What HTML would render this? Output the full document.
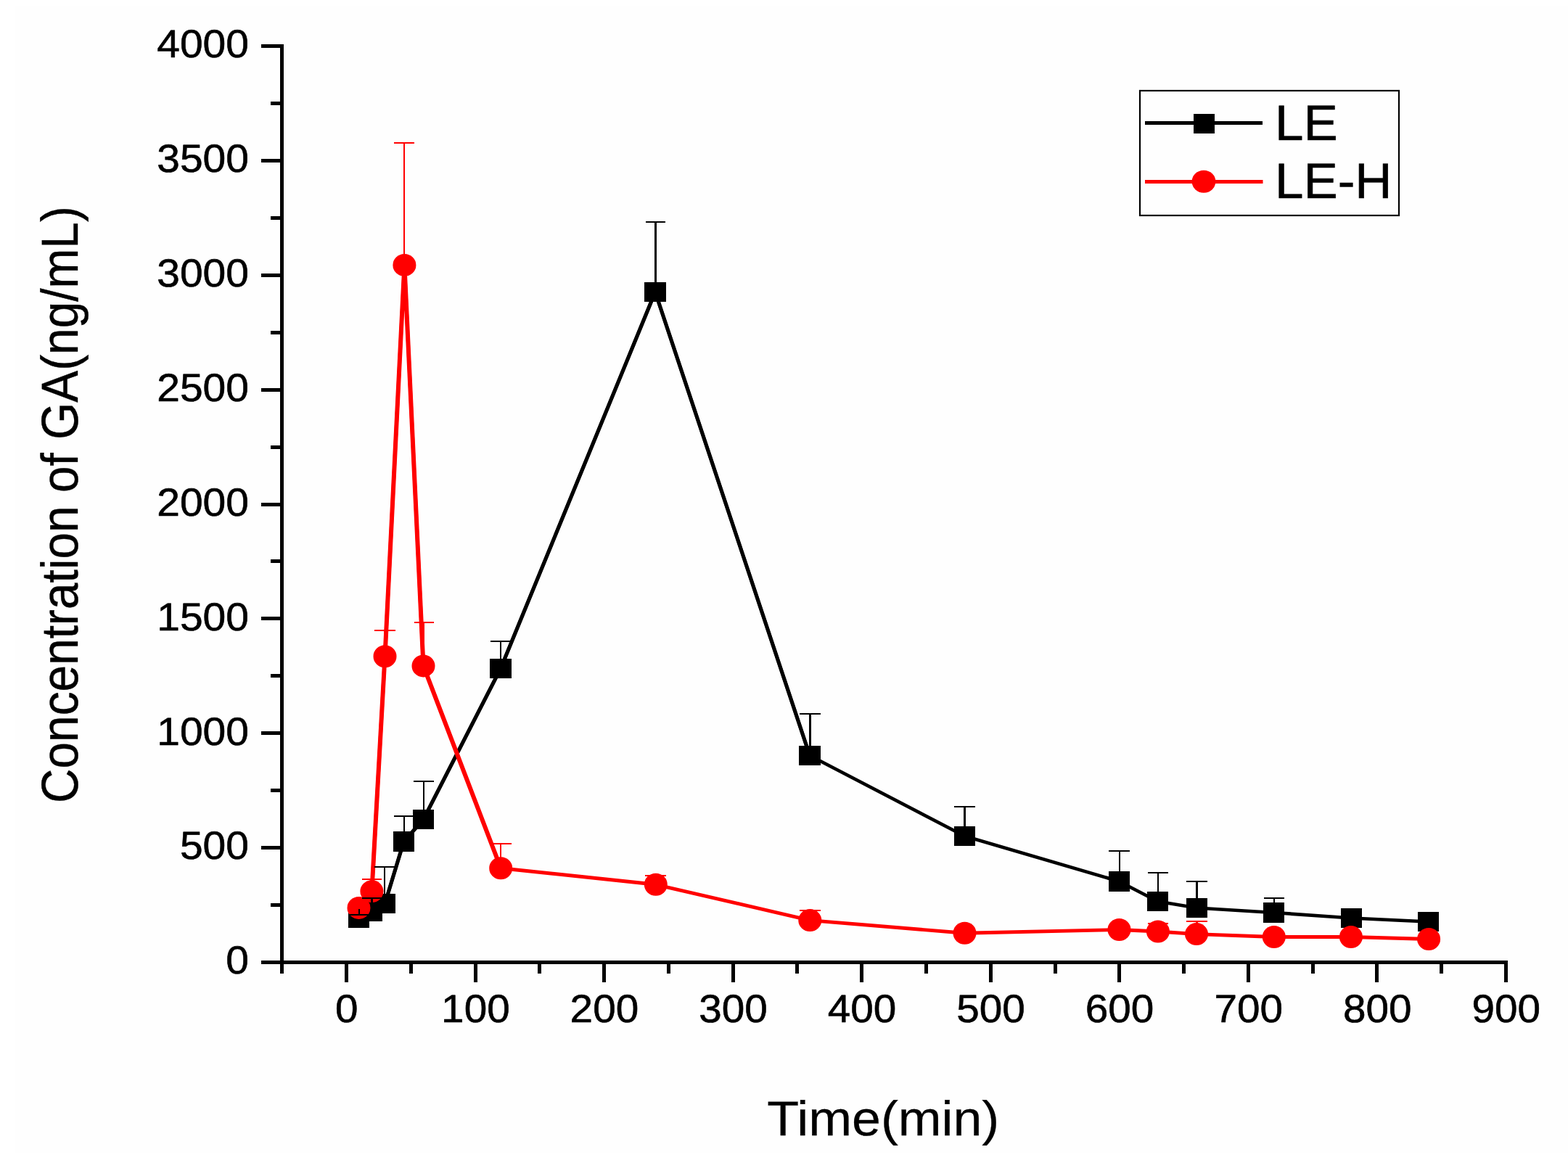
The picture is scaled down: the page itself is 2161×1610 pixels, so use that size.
<!DOCTYPE html>
<html lang="en"><head><meta charset="utf-8"><title>Concentration of GA vs Time</title>
<style>
html,body{margin:0;padding:0;background:#fff;width:2161px;height:1610px;overflow:hidden;}
svg{display:block;}
text{text-rendering:geometricPrecision;}
</style></head>
<body>
<svg width="2161" height="1610" viewBox="0 0 2161 1610">
<rect x="20" y="8" width="2141" height="1582" fill="#fefefe"/>
<g fill="#000" shape-rendering="crispEdges">
<rect x="386" y="61" width="5" height="1281"/>
<rect x="360" y="1324" width="1718" height="5"/>
<rect x="359.5" y="1324.0" width="28" height="5"/>
<rect x="359.5" y="1166.1" width="28" height="5"/>
<rect x="359.5" y="1008.2" width="28" height="5"/>
<rect x="359.5" y="850.4" width="28" height="5"/>
<rect x="359.5" y="692.5" width="28" height="5"/>
<rect x="359.5" y="534.6" width="28" height="5"/>
<rect x="359.5" y="376.8" width="28" height="5"/>
<rect x="359.5" y="218.9" width="28" height="5"/>
<rect x="359.5" y="61.0" width="28" height="5"/>
<rect x="373" y="1245.1" width="14" height="5"/>
<rect x="373" y="1087.2" width="14" height="5"/>
<rect x="373" y="929.3" width="14" height="5"/>
<rect x="373" y="771.4" width="14" height="5"/>
<rect x="373" y="613.6" width="14" height="5"/>
<rect x="373" y="455.7" width="14" height="5"/>
<rect x="373" y="297.8" width="14" height="5"/>
<rect x="373" y="139.9" width="14" height="5"/>
<rect x="475.0" y="1326" width="5" height="27.5"/>
<rect x="652.6" y="1326" width="5" height="27.5"/>
<rect x="830.1" y="1326" width="5" height="27.5"/>
<rect x="1007.7" y="1326" width="5" height="27.5"/>
<rect x="1185.2" y="1326" width="5" height="27.5"/>
<rect x="1362.8" y="1326" width="5" height="27.5"/>
<rect x="1540.3" y="1326" width="5" height="27.5"/>
<rect x="1717.9" y="1326" width="5" height="27.5"/>
<rect x="1895.4" y="1326" width="5" height="27.5"/>
<rect x="2073.0" y="1326" width="5" height="27.5"/>
<rect x="563.8" y="1326" width="5" height="15.5"/>
<rect x="741.3" y="1326" width="5" height="15.5"/>
<rect x="918.9" y="1326" width="5" height="15.5"/>
<rect x="1096.4" y="1326" width="5" height="15.5"/>
<rect x="1274.0" y="1326" width="5" height="15.5"/>
<rect x="1451.6" y="1326" width="5" height="15.5"/>
<rect x="1629.1" y="1326" width="5" height="15.5"/>
<rect x="1806.7" y="1326" width="5" height="15.5"/>
<rect x="1984.2" y="1326" width="5" height="15.5"/>
</g>
<g font-family="Liberation Sans, sans-serif" font-size="54.2" fill="#000" stroke="#000" stroke-width="0.6" stroke-linejoin="round">
<text transform="translate(343,1342.3) scale(1.052,1)" text-anchor="end">0</text>
<text transform="translate(343,1184.4) scale(1.052,1)" text-anchor="end">500</text>
<text transform="translate(343,1026.5) scale(1.052,1)" text-anchor="end">1000</text>
<text transform="translate(343,868.7) scale(1.052,1)" text-anchor="end">1500</text>
<text transform="translate(343,710.8) scale(1.052,1)" text-anchor="end">2000</text>
<text transform="translate(343,552.9) scale(1.052,1)" text-anchor="end">2500</text>
<text transform="translate(343,395.1) scale(1.052,1)" text-anchor="end">3000</text>
<text transform="translate(343,237.2) scale(1.052,1)" text-anchor="end">3500</text>
<text transform="translate(343,79.3) scale(1.052,1)" text-anchor="end">4000</text>
<text transform="translate(477.8,1409.1) scale(1.046,1)" text-anchor="middle">0</text>
<text transform="translate(655.4,1409.1) scale(1.046,1)" text-anchor="middle">100</text>
<text transform="translate(832.9,1409.1) scale(1.046,1)" text-anchor="middle">200</text>
<text transform="translate(1010.5,1409.1) scale(1.046,1)" text-anchor="middle">300</text>
<text transform="translate(1188.0,1409.1) scale(1.046,1)" text-anchor="middle">400</text>
<text transform="translate(1365.6,1409.1) scale(1.046,1)" text-anchor="middle">500</text>
<text transform="translate(1543.1,1409.1) scale(1.046,1)" text-anchor="middle">600</text>
<text transform="translate(1720.7,1409.1) scale(1.046,1)" text-anchor="middle">700</text>
<text transform="translate(1898.2,1409.1) scale(1.046,1)" text-anchor="middle">800</text>
<text transform="translate(2075.8,1409.1) scale(1.046,1)" text-anchor="middle">900</text>
</g>
<g font-family="Liberation Sans, sans-serif" font-size="66" fill="#000">
<text transform="translate(1217.2,1565) scale(1.066,1)" font-size="67.3" text-anchor="middle" stroke="#000" stroke-width="0.3">Time(min)</text>
<text transform="translate(107.3,695.6) scale(1.085,1) rotate(-90)" font-size="65.8" text-anchor="middle" stroke="#000" stroke-width="0.4">Concentration of GA(ng/mL)</text>
</g>
<polyline points="494.5,1265.5 512.5,1256.5 530.5,1245.5 556.5,1160.0 583.5,1129.5 690.0,921.5 903.0,402.5 1116.0,1041.5 1329.5,1152.5 1542.5,1215.0 1595.5,1242.5 1649.5,1251.5 1755.5,1258.0 1862.5,1265.5 1968.5,1270.5" fill="none" stroke="#000" stroke-width="4.7" stroke-linejoin="round"/>
<polyline points="530.5,1245.5 556.5,1160.0 583.5,1129.5 690.0,921.5 903.0,402.5 1116.0,1041.5" fill="none" stroke="#000" stroke-width="5.1" stroke-linejoin="round"/>
<g fill="#000" shape-rendering="crispEdges">
<rect x="480" y="1252" width="29" height="27"/>
<rect x="498" y="1243" width="29" height="27"/>
<rect x="516" y="1232" width="29" height="27"/>
<rect x="542" y="1146" width="29" height="28"/>
<rect x="569" y="1116" width="29" height="27"/>
<rect x="675" y="908" width="30" height="27"/>
<rect x="888" y="389" width="30" height="27"/>
<rect x="1101" y="1028" width="30" height="27"/>
<rect x="1315" y="1139" width="29" height="27"/>
<rect x="1528" y="1201" width="29" height="28"/>
<rect x="1581" y="1229" width="29" height="27"/>
<rect x="1635" y="1238" width="29" height="27"/>
<rect x="1741" y="1244" width="29" height="28"/>
<rect x="1848" y="1252" width="29" height="27"/>
<rect x="1954" y="1257" width="29" height="27"/>
</g>
<polyline points="494.5,1251.4 512.4,1228.6 530.5,904.8 557.4,365.4 583.5,917.9 690.2,1196.7 903.8,1219.3 1116.3,1268.6 1329.5,1286.3 1542.5,1281.5 1595.9,1284.0 1649.0,1287.6 1755.8,1291.5 1861.9,1291.5 1969.1,1294.5" fill="none" stroke="#f00" stroke-width="4.9" stroke-linejoin="round"/>
<polyline points="512.4,1228.6 530.5,904.8 557.4,365.4 583.5,917.9 690.2,1196.7" fill="none" stroke="#f00" stroke-width="6" stroke-linejoin="round"/>
<g fill="#f00">
<ellipse cx="494.5" cy="1251.4" rx="16.0" ry="15.5"/>
<ellipse cx="512.4" cy="1228.6" rx="16.0" ry="15.5"/>
<ellipse cx="530.5" cy="904.8" rx="16.0" ry="15.5"/>
<ellipse cx="557.4" cy="365.4" rx="16.0" ry="15.5"/>
<ellipse cx="583.5" cy="917.9" rx="16.0" ry="15.5"/>
<ellipse cx="690.2" cy="1196.7" rx="16.0" ry="15.5"/>
<ellipse cx="903.8" cy="1219.3" rx="16.0" ry="15.5"/>
<ellipse cx="1116.3" cy="1268.6" rx="16.0" ry="15.5"/>
<ellipse cx="1329.5" cy="1286.3" rx="16.0" ry="15.5"/>
<ellipse cx="1542.5" cy="1281.5" rx="16.0" ry="15.5"/>
<ellipse cx="1595.9" cy="1284.0" rx="16.0" ry="15.5"/>
<ellipse cx="1649.0" cy="1287.6" rx="16.0" ry="15.5"/>
<ellipse cx="1755.8" cy="1291.5" rx="16.0" ry="15.5"/>
<ellipse cx="1861.9" cy="1291.5" rx="16.0" ry="15.5"/>
<ellipse cx="1969.1" cy="1294.5" rx="16.0" ry="15.5"/>
</g>
<g fill="#000" shape-rendering="crispEdges">
<rect x="499" y="1237" width="28" height="2"/><rect x="511" y="1237" width="3" height="7"/>
<rect x="516" y="1194" width="28" height="2"/><rect x="529" y="1194" width="2" height="39"/>
<rect x="543" y="1124" width="28" height="2"/><rect x="556" y="1124" width="2" height="23"/>
<rect x="570" y="1076" width="28" height="2"/><rect x="583" y="1076" width="2" height="41"/>
<rect x="676" y="883" width="28" height="2"/><rect x="689" y="883" width="2" height="26"/>
<rect x="890" y="305" width="27" height="2"/><rect x="902" y="305" width="3" height="85"/>
<rect x="1102" y="983" width="29" height="2"/><rect x="1115" y="983" width="3" height="46"/>
<rect x="1315" y="1111" width="29" height="2"/><rect x="1328" y="1111" width="3" height="29"/>
<rect x="1528" y="1172" width="29" height="2"/><rect x="1542" y="1172" width="2" height="30"/>
<rect x="1582" y="1202" width="28" height="2"/><rect x="1595" y="1202" width="2" height="28"/>
<rect x="1635" y="1214" width="29" height="2"/><rect x="1648" y="1214" width="3" height="25"/>
<rect x="1742" y="1237" width="28" height="2"/><rect x="1755" y="1237" width="2" height="8"/>
<rect x="481" y="1260" width="28" height="2"/><rect x="494" y="1260" width="2" height="1"/>
</g>
<rect x="494" y="1253" width="2" height="8" fill="#000" shape-rendering="crispEdges"/>
<g fill="#f00" shape-rendering="crispEdges">
<rect x="499" y="1211" width="27" height="2"/><rect x="511" y="1211" width="3" height="5"/>
<rect x="516" y="868" width="29" height="2"/><rect x="529" y="868" width="2" height="24"/>
<rect x="543" y="196" width="28" height="2"/><rect x="556" y="196" width="2" height="156"/>
<rect x="571" y="857" width="27" height="2"/><rect x="583" y="857" width="2" height="47"/>
<rect x="676" y="1162" width="29" height="2"/><rect x="689" y="1162" width="2" height="21"/>
<rect x="889" y="1206" width="29" height="2"/><rect x="903" y="1206" width="2" height="4"/>
<rect x="1102" y="1254" width="29" height="2"/><rect x="1115" y="1254" width="2" height="4"/>
<rect x="1582" y="1272" width="28" height="2"/><rect x="1595" y="1272" width="2" height="3"/>
<rect x="1635" y="1269" width="29" height="2"/><rect x="1648" y="1269" width="3" height="6"/>
</g>
<rect x="1571" y="125" width="357" height="172" fill="none" stroke="#000" stroke-width="2.2"/>
<rect x="1578" y="167" width="162" height="5" fill="#000"/>
<rect x="1645" y="157" width="29" height="27" fill="#000"/>
<rect x="1578" y="248" width="162.5" height="5" fill="#f00"/>
<ellipse cx="1659" cy="250.2" rx="16.4" ry="15.5" fill="#f00"/>
<g font-family="Liberation Sans, sans-serif" font-size="68.6" fill="#000" stroke="#000" stroke-width="0.6">
<text transform="translate(1757,193) scale(1.034,1)">LE</text>
<text transform="translate(1757,272.6) scale(1.034,1)">LE-H</text>
</g>
</svg>
</body></html>
